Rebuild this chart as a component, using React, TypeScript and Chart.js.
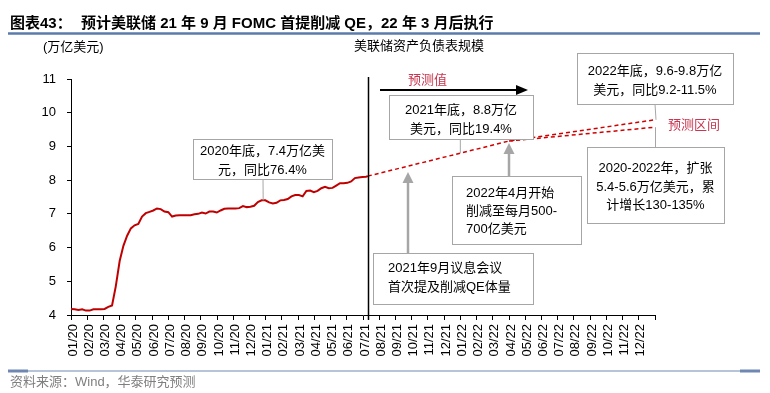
import React, { useEffect, useRef } from 'react';
import { Chart, registerables } from 'chart.js';

Chart.register(...registerables);

// ---------- data ----------
const monthLabels = [
  '01/20', '02/20', '03/20', '04/20', '05/20', '06/20', '07/20', '08/20', '09/20', '10/20', '11/20', '12/20',
  '01/21', '02/21', '03/21', '04/21', '05/21', '06/21', '07/21', '08/21', '09/21', '10/21', '11/21', '12/21',
  '01/22', '02/22', '03/22', '04/22', '05/22', '06/22', '07/22', '08/22', '09/22', '10/22', '11/22', '12/22',
];

// actual weekly balance sheet (months since 01/2020, trillion USD)
const actualMonths = [
  0.0, 0.23, 0.46, 0.69, 0.92, 1.15, 1.38, 1.61, 1.84, 2.07, 2.3, 2.53, 2.76, 3.0, 3.23, 3.46, 3.69, 3.92,
  4.15, 4.38, 4.61, 4.84, 5.07, 5.3, 5.53, 5.76, 6.0, 6.23, 6.46, 6.69, 6.92, 7.15, 7.38, 7.61, 7.84, 8.07,
  8.3, 8.53, 8.76, 8.99, 9.22, 9.45, 9.68, 9.91, 10.14, 10.37, 10.6, 10.83, 11.06, 11.29, 11.52, 11.75, 11.98,
  12.21, 12.44, 12.67, 12.9, 13.13, 13.36, 13.59, 13.82, 14.05, 14.28, 14.51, 14.74, 14.97, 15.2, 15.43, 15.66,
  15.89, 16.12, 16.35, 16.58, 16.81, 17.04, 17.27, 17.5, 17.73, 17.96, 18.19, 18.3,
];
const actualValues = [
  4.18, 4.17, 4.15, 4.17, 4.13, 4.13, 4.17, 4.17, 4.17, 4.18, 4.24, 4.28, 4.85, 5.6, 6.05, 6.35, 6.57, 6.66,
  6.7, 6.92, 7.02, 7.06, 7.1, 7.16, 7.14, 7.07, 7.05, 6.92, 6.95, 6.96, 6.96, 6.96, 6.96, 6.99, 7.0, 7.04,
  7.01, 7.07, 7.07, 7.04, 7.1, 7.15, 7.16, 7.16, 7.16, 7.17, 7.23, 7.2, 7.21, 7.24, 7.35, 7.4, 7.4,
  7.34, 7.31, 7.33, 7.4, 7.41, 7.44, 7.52, 7.56, 7.56, 7.52, 7.68, 7.69, 7.64, 7.68, 7.76, 7.8,
  7.76, 7.77, 7.84, 7.91, 7.91, 7.92, 7.96, 8.06, 8.08, 8.09, 8.1, 8.12,
];

// forecast path (upper) and lower bound of the forecast range
const forecastMonths = [18.3, 24, 27, 36];
const forecastUpper = [8.12, 8.8, 9.16, 9.79];
const rangeMonths = [27, 36];
const forecastLower = [9.16, 9.57];

const forecastStart = 18.3;
const yMin = 4;
const yMax = 11;

const FONT = '"Liberation Sans", "Noto Sans CJK SC", sans-serif';

// ---------- annotation drawing ----------
type Box = { x: number; y: number; w: number; h: number; lines: string[]; ys: number[]; align: 'center' | 'left'; tx?: number };

const boxes: Box[] = [
  { x: 193, y: 139, w: 139, h: 40, lines: ['2020年底，7.4万亿美', '元，同比76.4%'], ys: [151, 170], align: 'center' },
  { x: 389, y: 95, w: 144, h: 44, lines: ['2021年底，8.8万亿', '美元，同比19.4%'], ys: [110, 129], align: 'center' },
  { x: 577, y: 53, w: 156, h: 51, lines: ['2022年底，9.6-9.8万亿', '美元，同比9.2-11.5%'], ys: [71, 90], align: 'center' },
  { x: 587, y: 147, w: 137, h: 76, lines: ['2020-2022年，扩张', '5.4-5.6万亿美元，累', '计增长130-135%'], ys: [168, 187, 205], align: 'center' },
  { x: 452, y: 176, w: 129, h: 68, lines: ['2022年4月开始', '削减至每月500-', '700亿美元'], ys: [193, 211, 229], align: 'left', tx: 466 },
  { x: 373, y: 253, w: 160, h: 51, lines: ['2021年9月议息会议', '首次提及削减QE体量'], ys: [268, 287], align: 'left', tx: 388 },
];

function drawBox(ctx: CanvasRenderingContext2D, b: Box) {
  ctx.fillStyle = '#ffffff';
  ctx.fillRect(b.x, b.y, b.w, b.h);
  ctx.strokeStyle = '#a6a6a6';
  ctx.lineWidth = 1;
  ctx.strokeRect(b.x + 0.5, b.y + 0.5, b.w, b.h);
  ctx.fillStyle = '#000000';
  ctx.font = `13px ${FONT}`;
  ctx.textBaseline = 'middle';
  ctx.textAlign = b.align;
  const tx = b.align === 'center' ? b.x + b.w / 2 : (b.tx as number);
  b.lines.forEach((t, i) => ctx.fillText(t, tx, b.ys[i]));
}

function line(ctx: CanvasRenderingContext2D, x1: number, y1: number, x2: number, y2: number, color: string, w: number) {
  ctx.strokeStyle = color;
  ctx.lineWidth = w;
  ctx.beginPath();
  ctx.moveTo(x1, y1);
  ctx.lineTo(x2, y2);
  ctx.stroke();
}

function arrowUp(ctx: CanvasRenderingContext2D, x: number, yFrom: number, yTip: number, color: string) {
  line(ctx, x, yFrom, x, yTip + 10, color, 2.5);
  ctx.fillStyle = color;
  ctx.beginPath();
  ctx.moveTo(x, yTip);
  ctx.lineTo(x - 5.5, yTip + 11);
  ctx.lineTo(x + 5.5, yTip + 11);
  ctx.closePath();
  ctx.fill();
}

const overlayPlugin = {
  id: 'overlay',
  afterDraw(chart: any) {
    const ctx: CanvasRenderingContext2D = chart.ctx;
    const xs = chart.scales.x;
    const ys = chart.scales.y;
    ctx.save();

    // title
    ctx.fillStyle = '#000000';
    ctx.textBaseline = 'middle';
    ctx.textAlign = 'left';
    ctx.font = `bold 15px ${FONT}`;
    ctx.fillText('图表43：', 10, 24);
    ctx.fillText('预计美联储 21 年 9 月 FOMC 首提削减 QE，22 年 3 月后执行', 81, 24);
    line(ctx, 8, 33.5, 760, 33.5, '#5b7bab', 2.5);

    // headers
    ctx.font = `13px ${FONT}`;
    ctx.fillStyle = '#000000';
    ctx.fillText('(万亿美元)', 43, 47);
    ctx.textAlign = 'center';
    ctx.fillText('美联储资产负债表规模', 419, 46);

    // footer
    line(ctx, 8, 371, 760, 371, '#6f87b3', 1.2);
    line(ctx, 8, 371, 28, 371, '#6f87b3', 3);
    line(ctx, 740, 371, 760, 371, '#6f87b3', 3);
    ctx.textAlign = 'left';
    ctx.fillStyle = '#7f7f7f';
    ctx.font = `13px ${FONT}`;
    ctx.fillText('资料来源：Wind，华泰研究预测', 10, 382);

    // forecast divider
    const xd = Math.round(xs.getPixelForValue(forecastStart)) + 0.5;
    line(ctx, xd, ys.top - 2, xd, ys.bottom + 5, '#000000', 1.5);

    // forecast arrow
    line(ctx, 380, 90, 517, 90, '#000000', 2.2);
    ctx.fillStyle = '#000000';
    ctx.beginPath();
    ctx.moveTo(528, 90);
    ctx.lineTo(516, 85);
    ctx.lineTo(516, 95);
    ctx.closePath();
    ctx.fill();
    ctx.font = `13px ${FONT}`;
    ctx.fillStyle = '#c8374f';
    ctx.fillText('预测值', 408, 80);
    ctx.fillText('预测区间', 668, 125);

    // connectors
    const p2020x = xs.getPixelForValue(11.97);
    const p2020y = ys.getPixelForValue(7.4);
    line(ctx, 263, 179, p2020x - 2, p2020y, '#a6a6a6', 1);
    const p2021x = xs.getPixelForValue(24);
    const p2021y = ys.getPixelForValue(8.8);
    line(ctx, p2021x, 139, p2021x, p2021y, '#a6a6a6', 1);
    const endX = xs.getPixelForValue(36);
    line(ctx, 655, 104, endX + 1, ys.getPixelForValue(9.79), '#a6a6a6', 1);
    line(ctx, 655.5, 147, 655.5, ys.getPixelForValue(9.57), '#a6a6a6', 1);

    // gray arrows
    arrowUp(ctx, 509, 176, ys.getPixelForValue(9.16) + 2, '#a6a6a6');
    arrowUp(ctx, 408, 253, ys.getPixelForValue(8.3) + 2, '#a6a6a6');

    boxes.forEach((b) => drawBox(ctx, b));
    ctx.restore();
  },
};

export default function App() {
  const ref = useRef<HTMLCanvasElement | null>(null);

  useEffect(() => {
    if (!ref.current) return;
    const actual = actualMonths.map((m, i) => ({ x: m, y: actualValues[i] }));
    const upper = forecastMonths.map((m, i) => ({ x: m, y: forecastUpper[i] }));
    const lower = rangeMonths.map((m, i) => ({ x: m, y: forecastLower[i] }));

    const chart = new Chart(ref.current, {
      type: 'line',
      data: {
        datasets: [
          { label: '实际', data: actual, borderColor: '#c00000', borderWidth: 2, pointRadius: 0, tension: 0 },
          { label: '预测', data: upper, borderColor: '#d00000', borderWidth: 1.5, borderDash: [4, 3], pointRadius: 0, tension: 0 },
          { label: '预测下限', data: lower, borderColor: '#d00000', borderWidth: 1.5, borderDash: [4, 3], pointRadius: 0, tension: 0 },
        ],
      },
      options: {
        responsive: false,
        animation: false,
        devicePixelRatio: 1,
        layout: { padding: { left: 0, top: 79, right: 115, bottom: 0 } },
        plugins: { legend: { display: false }, tooltip: { enabled: false }, title: { display: false } },
        scales: {
          x: {
            type: 'linear',
            min: 0,
            max: 36,
            afterFit: (s: any) => { s.height = 78; },
            grid: { drawOnChartArea: false, drawTicks: true, tickLength: 5, color: '#000000', lineWidth: 1 },
            border: { display: true, color: '#000000', width: 1 },
            ticks: {
              stepSize: 1,
              autoSkip: false,
              minRotation: 90,
              maxRotation: 90,
              padding: 4,
              labelOffset: 2,
              color: '#000000',
              font: { family: FONT, size: 13 },
              callback: (v: any) => (Number.isInteger(v) && v < monthLabels.length ? monthLabels[v] : ''),
            },
          },
          y: {
            min: yMin,
            max: yMax,
            afterFit: (s: any) => { s.width = 71; },
            grid: { drawOnChartArea: false, drawTicks: true, tickLength: 4, color: '#000000', lineWidth: 1 },
            border: { display: true, color: '#000000', width: 1 },
            ticks: { stepSize: 1, padding: 11, color: '#000000', font: { family: FONT, size: 13 } },
          },
        },
      },
      plugins: [overlayPlugin],
    } as any);
    return () => chart.destroy();
  }, []);

  return (
    <div style={{ position: 'fixed', left: 0, top: 0, width: 770, height: 393, background: '#ffffff' }}>
      <canvas ref={ref} width={770} height={393} style={{ display: 'block', width: 770, height: 393 }} />
    </div>
  );
}
